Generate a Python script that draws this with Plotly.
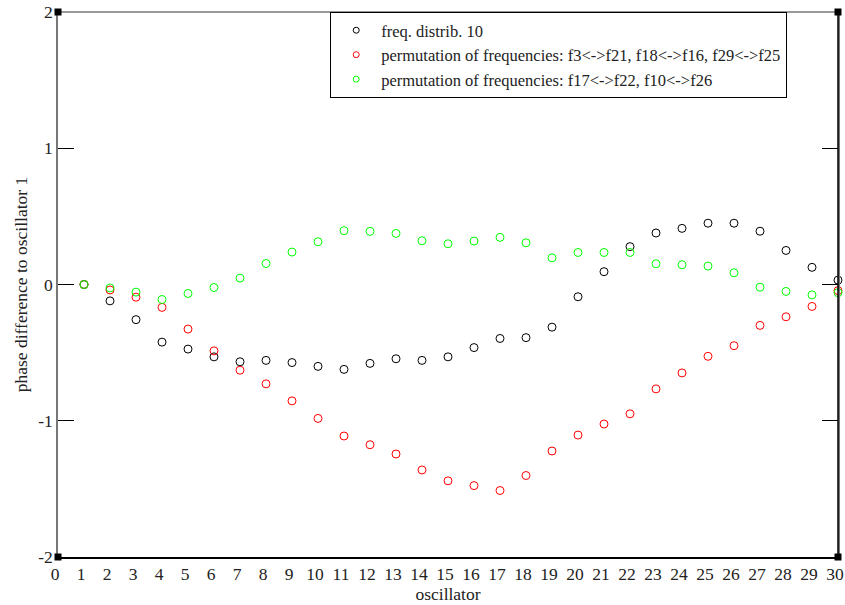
import plotly.graph_objects as go

oscillators = list(range(1, 31))

freq_distrib_10 = [0.0, -0.12, -0.258, -0.423, -0.474, -0.531, -0.567, -0.557, -0.573, -0.601,
                   -0.623, -0.579, -0.545, -0.557, -0.531, -0.463, -0.396, -0.39, -0.313, -0.09,
                   0.094, 0.278, 0.378, 0.412, 0.45, 0.45, 0.391, 0.25, 0.126, 0.032]

perm_a = [0.0, -0.04, -0.093, -0.168, -0.327, -0.487, -0.629, -0.729, -0.854, -0.983,
          -1.112, -1.176, -1.244, -1.361, -1.441, -1.476, -1.512, -1.402, -1.222, -1.105,
          -1.024, -0.949, -0.766, -0.649, -0.527, -0.449, -0.3, -0.237, -0.161, -0.045]

perm_b = [0.0, -0.025, -0.056, -0.11, -0.066, -0.022, 0.047, 0.154, 0.238, 0.314,
          0.395, 0.39, 0.375, 0.321, 0.299, 0.319, 0.346, 0.306, 0.196, 0.235,
          0.235, 0.235, 0.152, 0.145, 0.135, 0.086, -0.02, -0.051, -0.076, -0.06]

series_names = [
    "freq. distrib. 10",
    "permutation of frequencies: f3<->f21, f18<->f16, f29<->f25",
    "permutation of frequencies: f17<->f22, f10<->f26",
]
series_colors = ["#000000", "#ff0000", "#00ff00"]
x_ticks = list(range(0, 31))
y_ticks = [-2, -1, 0, 1, 2]

FONT = "Liberation Serif, Times New Roman, serif"
FS = 17.5
LFS = 16.5
TXT = "#222222"

fig = go.Figure()
for name, vals, col in zip(series_names, [freq_distrib_10, perm_a, perm_b], series_colors):
    fig.add_trace(go.Scatter(
        x=oscillators, y=vals, mode="markers", name=name, showlegend=False,
        cliponaxis=False,
        marker=dict(symbol="circle-open", size=8, color=col, line=dict(width=1, color=col)),
    ))
# legend entries (smaller symbols, as in the reference legend)
for name, col in zip(series_names, series_colors):
    fig.add_trace(go.Scatter(
        x=[None], y=[None], mode="markers", name=name, showlegend=True,
        marker=dict(symbol="circle-open", size=6, color=col, line=dict(width=1, color=col)),
    ))

fig.update_layout(
    width=845, height=605,
    margin=dict(l=58, r=7, t=12, b=48),
    paper_bgcolor="white", plot_bgcolor="white",
    font=dict(family=FONT, size=FS, color=TXT),
    showlegend=True,
    legend=dict(
        x=0.349, y=1, xanchor="left", yanchor="top",
        bgcolor="white", bordercolor="#000000", borderwidth=1,
        font=dict(family=FONT, size=LFS, color=TXT),
        itemsizing="trace", itemwidth=40,
    ),
    xaxis=dict(
        range=[0, 30], tickvals=x_ticks, ticktext=[str(v) for v in x_ticks],
        showgrid=False, zeroline=False, showline=True, linecolor="#000000", linewidth=1.5,
        ticks="", automargin=False, ticklabeloverflow="allow", ticklabelshift=-3,
        tickfont=dict(family=FONT, size=FS, color=TXT),
        title=dict(text="oscillator", font=dict(family=FONT, size=FS, color=TXT), standoff=0),
    ),
    yaxis=dict(
        range=[-2, 2], tickvals=y_ticks, ticktext=[str(v) for v in y_ticks],
        showgrid=False, zeroline=False, showline=True, linecolor="#777777", linewidth=1.5,
        mirror="ticks", ticks="inside", ticklen=16, tickcolor="#000000", tickwidth=1,
        automargin=False, ticklabeloverflow="allow",
        tickfont=dict(family=FONT, size=FS, color=TXT),
        title=dict(text="phase difference to oscillator 1", font=dict(family=FONT, size=FS, color=TXT), standoff=6),
    ),
)

# frame: top gray, right black
fig.add_shape(type="line", xref="x domain", yref="y domain", x0=0, x1=1, y0=1, y1=1,
              line=dict(color="#777777", width=1.5), layer="above")
fig.add_shape(type="line", xref="x domain", yref="y domain", x0=1, x1=1, y0=0, y1=1,
              line=dict(color="#000000", width=1.5), layer="above")

# corner squares
for xd in (0, 1):
    for yd in (0, 1):
        fig.add_shape(type="rect", xref="x domain", yref="y domain",
                      xsizemode="pixel", ysizemode="pixel", xanchor=xd, yanchor=yd,
                      x0=-3.5, x1=3.5, y0=-3.5, y1=3.5,
                      fillcolor="#000000", line=dict(width=0), layer="above")

fig.write_html("out.html")
